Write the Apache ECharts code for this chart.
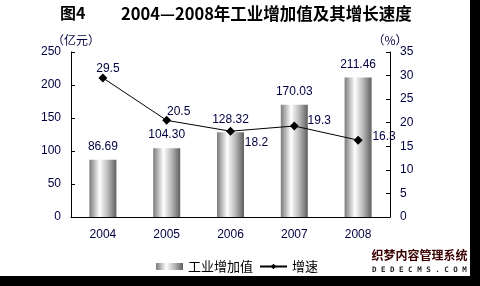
<!DOCTYPE html>
<html><head><meta charset="utf-8">
<script src="https://cdn.jsdelivr.net/npm/echarts@6/dist/echarts.min.js"></script>
<style>html,body{margin:0;padding:0;background:#fff}#c{width:480px;height:286px}</style>
</head><body><div id="c"></div>
<script>
const years = ['2004','2005','2006','2007','2008'];
const valueAdded = [86.69, 104.30, 128.32, 170.03, 211.46];
const growthRate = [29.5, 20.5, 18.2, 19.3, 16.3];
const leftTicks = {min: 0, max: 250, interval: 50};
const rightTicks = {min: 0, max: 35, interval: 5};
const growthLabelOffsets = [[5,-9],[12,-9],[26,11],[25,-5],[26,-3]];

const txt = '#000040';
const numFont = 'Liberation Sans, Arial, sans-serif';
const cjk = 'Noto Sans CJK SC, sans-serif';
const barGrad = new echarts.graphic.LinearGradient(0,0,1,0,[
  {offset:0,color:'#7a7a7a'},{offset:0.38,color:'#ffffff'},
  {offset:0.7,color:'#b4b4b4'},{offset:1,color:'#5e5e5e'}]);

const chart = echarts.init(document.getElementById('c'), null, {renderer:'canvas'});
chart.setOption({
  animation:false,
  backgroundColor:'#fff',
  grid:{left:71,right:90,top:52,bottom:69},
  legend:{
    left:151, top:255, itemWidth:27, itemHeight:7, itemGap:6,
    textStyle:{fontFamily:cjk,fontSize:13,color:'#000'},
    data:[{name:'工业增加值',icon:'rect'},{name:'增速'}]
  },
  xAxis:{
    type:'category', data:years, boundaryGap:true,
    axisLine:{lineStyle:{color:'#000',width:1}},
    axisTick:{inside:true,length:4,lineStyle:{color:'#000'}},
    axisLabel:{color:txt,fontFamily:numFont,fontSize:12,margin:12}
  },
  yAxis:[{
    type:'value', min:leftTicks.min, max:leftTicks.max, interval:leftTicks.interval,
    name:'（亿元）', nameGap:6, nameTextStyle:{fontFamily:cjk,fontSize:12,color:txt,align:'center',padding:[0,0,0,10]},
    axisLine:{show:true,lineStyle:{color:'#000'}},
    axisTick:{show:true,inside:true,length:4,lineStyle:{color:'#000'}},
    axisLabel:{color:txt,fontFamily:numFont,fontSize:12,margin:10},
    splitLine:{show:false}
  },{
    type:'value', min:rightTicks.min, max:rightTicks.max, interval:rightTicks.interval,
    name:'（%）', nameGap:6, nameTextStyle:{fontFamily:cjk,fontSize:12,color:txt,align:'center'},
    axisLine:{show:true,lineStyle:{color:'#000'}},
    axisTick:{show:true,inside:true,length:4,lineStyle:{color:'#000'}},
    axisLabel:{color:txt,fontFamily:numFont,fontSize:12,margin:10},
    splitLine:{show:false}
  }],
  series:[{
    name:'工业增加值', type:'bar', yAxisIndex:0, barWidth:27,
    data:valueAdded,
    itemStyle:{color:barGrad},
    label:{show:true,position:'top',distance:7,color:txt,fontFamily:numFont,fontSize:12,
      formatter:p=>p.value.toFixed(2)}
  },{
    name:'增速', type:'line', yAxisIndex:1,
    data:growthRate.map((v,i)=>({value:v,label:{offset:growthLabelOffsets[i]}})),
    symbol:'diamond', symbolSize:9,
    lineStyle:{color:'#000',width:1}, itemStyle:{color:'#000'},
    label:{show:true,position:'inside',color:txt,fontFamily:numFont,fontSize:12}
  }],
  graphic:[
    {type:'text',left:60,top:5,style:{text:'图4',font:'bold 16px '+cjk,fill:'#000'}},
    {type:'text',left:121,top:5,style:{text:'2004—2008年工业增加值及其增长速度',font:'bold 16.5px '+cjk,fill:'#000'}},
    {type:'rect',shape:{x:470,y:0,width:10,height:286},style:{fill:'#000'}},
    {type:'rect',shape:{x:0,y:276,width:480,height:10},style:{fill:'#000'}},
    {type:'text',left:371,top:249,style:{text:'织梦内容管理系统',font:'bold 12px '+cjk,fill:'#3a0000',stroke:'#fff',lineWidth:1}},
    {type:'text',left:372,top:266,style:{text:'D E D E C M S . C O M',font:'bold 7.5px DejaVu Sans Mono, monospace',fill:'#222'}}
  ]
});
</script></body></html>
